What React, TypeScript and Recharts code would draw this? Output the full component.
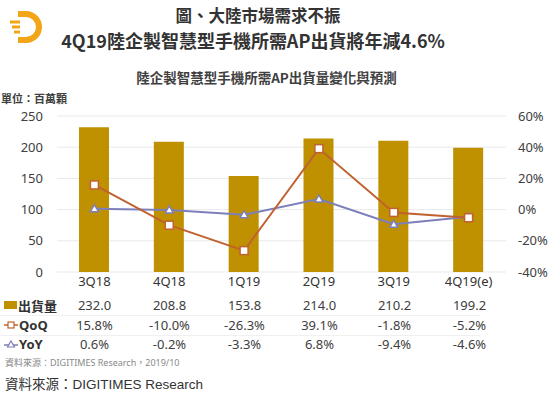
import { Bar, CartesianGrid, ComposedChart, Line, XAxis, YAxis } from "recharts";

const CATEGORIES = ["3Q18", "4Q18", "1Q19", "2Q19", "3Q19", "4Q19(e)"];
const SHIPMENTS = [232.0, 208.8, 153.8, 214.0, 210.2, 199.2];
const QOQ = [15.8, -10.0, -26.3, 39.1, -1.8, -5.2];
const YOY = [0.6, -0.2, -3.3, 6.8, -9.4, -4.6];
const LEFT_TICKS = [0, 50, 100, 150, 200, 250];
const RIGHT_TICKS = [-40, -20, 0, 20, 40, 60];

const BAR = "#BF9000";
const QOQ_C = "#C0622F";
const YOY_C = "#7D7FBA";
const TEXT = "#404040";

const data = CATEGORIES.map((c, i) => ({ cat: c, ship: SHIPMENTS[i], qoq: QOQ[i], yoy: YOY[i] }));

const fmtPct = (v: number) => `${v.toFixed(1)}%`;

const SquareDot = (p: any) => {
  if (p.cx == null || p.cy == null) return null;
  return <rect key={p.index} x={p.cx - 4} y={p.cy - 4} width={8} height={8} fill="#fff" stroke={QOQ_C} strokeWidth={1.5} />;
};

const TriDot = (p: any) => {
  if (p.cx == null || p.cy == null) return null;
  const { cx, cy } = p;
  return (
    <path
      key={p.index}
      d={`M${cx} ${cy - 4} L${cx + 4} ${cy + 3} L${cx - 4} ${cy + 3} Z`}
      fill="#fff"
      stroke={YOY_C}
      strokeWidth={1.5}
    />
  );
};

const PLOT_L = 57;
const BAND = 75;

function TableRow({ top, label, icon, values }: { top: number; label: string; icon: React.ReactNode; values: string[] }) {
  return (
    <div style={{ position: "absolute", left: 0, top, width: 553, height: 20 }}>
      <div style={{ position: "absolute", left: 4, top: 0, display: "flex", alignItems: "center", height: 20, fontWeight: 700, fontSize: 13, color: "#333" }}>
        {icon}
        <span style={{ marginLeft: 1 }}>{label}</span>
      </div>
      {values.map((v, i) => (
        <div
          key={i}
          style={{ position: "absolute", left: PLOT_L + BAND * i, width: BAND, top: 0, height: 20, lineHeight: "20px", textAlign: "center", fontSize: 13, color: TEXT }}
        >
          {v}
        </div>
      ))}
    </div>
  );
}

export default function App() {
  return (
    <div style={{ position: "absolute", left: 0, top: 0, width: 553, height: 395, background: "#fff", fontFamily: "'Noto Sans', 'Noto Sans CJK TC', sans-serif", overflow: "hidden" }}>
      <svg width={40} height={44} style={{ position: "absolute", left: 4, top: 6 }}>
        <path d="M14 8 H22 A13 13 0 0 1 22 34 H14" stroke="#F2A516" strokeWidth={6} fill="none" />
        <path d="M6 16 H16 M8 21 H16 M10 26 H16" stroke="#F2A516" strokeWidth={3} />
      </svg>
      <div style={{ position: "absolute", left: 0, width: 516, top: 3, textAlign: "center", fontFamily: "'Noto Sans CJK TC', sans-serif", fontWeight: 700, fontSize: 16.5, color: "#333", lineHeight: "24px" }}>
        圖、大陸市場需求不振
      </div>
      <div style={{ position: "absolute", left: 0, width: 506, top: 27, textAlign: "center", fontFamily: "'Noto Sans CJK TC', sans-serif", fontWeight: 700, fontSize: 18, color: "#333", lineHeight: "26px" }}>
        4Q19陸企製智慧型手機所需AP出貨將年減4.6%
      </div>
      <div style={{ position: "absolute", left: 0, width: 533, top: 67, textAlign: "center", fontFamily: "'Noto Sans CJK TC', sans-serif", fontWeight: 700, fontSize: 13.5, color: "#404040", lineHeight: "20px" }}>
        陸企製智慧型手機所需AP出貨量變化與預測
      </div>
      <div style={{ position: "absolute", left: 1, top: 90, fontFamily: "'Noto Sans CJK TC', sans-serif", fontWeight: 700, fontSize: 11, color: "#404040", lineHeight: "16px" }}>
        單位：百萬顆
      </div>

      <div style={{ position: "absolute", left: 0, top: 0 }}>
        <ComposedChart width={553} height={300} data={data} margin={{ top: 116, left: 17, right: 7, bottom: 0 }}>
          <CartesianGrid yAxisId="left" vertical={false} stroke="#e9e9e9" />
          <XAxis
            dataKey="cat"
            height={28}
            axisLine={false}
            tickLine={false}
            tickSize={0}
            tickMargin={5}
            interval={0}
            tick={{ fontSize: 13, fill: "#333" }}
          />
          <YAxis
            yAxisId="left"
            width={40}
            domain={[0, 250]}
            ticks={LEFT_TICKS}
            axisLine={false}
            tickLine={false}
            tickSize={0}
            tickMargin={14}
            tick={{ fontSize: 13, fill: TEXT }}
          />
          <YAxis
            yAxisId="right"
            orientation="right"
            width={40}
            domain={[-40, 60]}
            ticks={RIGHT_TICKS}
            tickFormatter={(v) => `${v}%`}
            axisLine={false}
            tickLine={false}
            tickSize={0}
            tickMargin={12}
            tick={{ fontSize: 13, fill: TEXT }}
          />
          <Bar yAxisId="left" dataKey="ship" fill={BAR} barSize={30} isAnimationActive={false} />
          <Line yAxisId="right" dataKey="yoy" stroke={YOY_C} strokeWidth={2} dot={TriDot} activeDot={false} isAnimationActive={false} />
          <Line yAxisId="right" dataKey="qoq" stroke={QOQ_C} strokeWidth={2} dot={SquareDot} activeDot={false} isAnimationActive={false} />
        </ComposedChart>
      </div>

      <div style={{ position: "absolute", left: 0, top: 315, width: 480, height: 1, background: "#f0f0f0" }} />
      <div style={{ position: "absolute", left: 0, top: 335, width: 480, height: 1, background: "#f0f0f0" }} />

      <TableRow
        top={295}
        label="出貨量"
        icon={<span style={{ display: "inline-block", width: 13, height: 8, background: BAR }} />}
        values={SHIPMENTS.map((v) => v.toFixed(1))}
      />
      <TableRow
        top={315}
        label="QoQ"
        icon={
          <svg width={14} height={10}>
            <line x1={0} y1={5} x2={14} y2={5} stroke={QOQ_C} strokeWidth={1.5} />
            <rect x={4} y={2} width={6} height={6} fill="#fff" stroke={QOQ_C} strokeWidth={1.2} />
          </svg>
        }
        values={QOQ.map(fmtPct)}
      />
      <TableRow
        top={334}
        label="YoY"
        icon={
          <svg width={14} height={10}>
            <line x1={0} y1={6} x2={14} y2={6} stroke={YOY_C} strokeWidth={1.5} />
            <path d="M7 2 L10.5 8 L3.5 8 Z" fill="#fff" stroke={YOY_C} strokeWidth={1.2} />
          </svg>
        }
        values={YOY.map(fmtPct)}
      />

      <div style={{ position: "absolute", left: 5, top: 356, fontSize: 9, color: "#888", lineHeight: "14px" }}>
        資料來源：DIGITIMES Research，2019/10
      </div>
      <div style={{ position: "absolute", left: 5, top: 375, fontFamily: "'Liberation Sans', 'Noto Sans CJK TC', sans-serif", fontSize: 13.5, color: "#333", lineHeight: "20px" }}>
        資料來源：DIGITIMES Research
      </div>
    </div>
  );
}
